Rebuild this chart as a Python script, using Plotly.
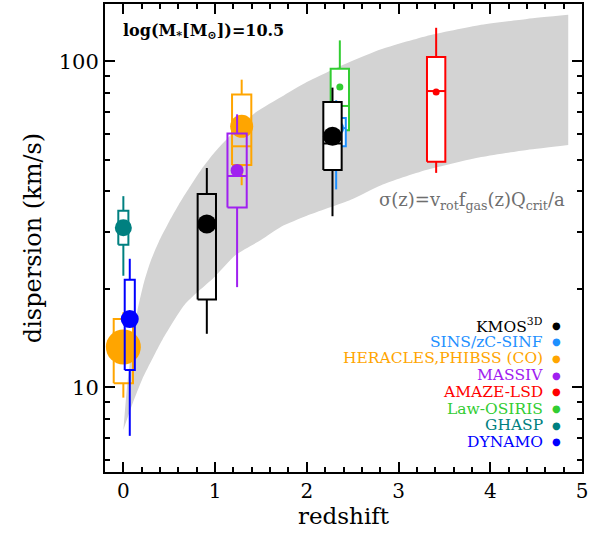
import plotly.graph_objects as go
import math

# ---------------- data ----------------
surveys = ["KMOS<sup>3D</sup>", "SINS/zC-SINF", "HERACLES,PHIBSS (CO)", "MASSIV",
           "AMAZE-LSD", "Law-OSIRIS", "GHASP", "DYNAMO"]
survey_colors = ["#000000", "#1E90FF", "#FFA500", "#A020F0",
                 "#FF0000", "#32CD32", "#008080", "#0000FF"]

# one entry per plotted box (drawing order)
entry_survey = ["GHASP", "HERACLES0", "DYNAMO", "KMOS1", "HERACLES1",
                "MASSIV", "Law-OSIRIS", "SINS", "KMOS2", "AMAZE"]
entry_color = ["#008080", "#FFA500", "#0000FF", "#000000", "#FFA500",
               "#A020F0", "#32CD32", "#1E90FF", "#000000", "#FF0000"]
entry_z = [0.00, 0.00, 0.07, 0.91, 1.29, 1.24, 2.36, 2.32, 2.28, 3.41]
entry_sigma = [30.9, 13.3, 16.2, 31.7, 63.2, 46.3, 83.4, 62.4, 58.9, 80.5]
entry_box_lo = [27.4, 10.3, 11.3, 18.6, 48.1, 35.6, 61.5, 54.9, 46.4, 49.2]
entry_box_hi = [34.8, 16.2, 21.4, 39.2, 79.1, 60.1, 95.0, 67.1, 75.1, 103.1]
entry_median = [30.9, 13.3, 16.2, 31.7, 54.9, 44.5, 73.0, 62.4, 56.0, 81.1]
entry_wlo = [22.0, 9.3, 7.1, 14.6, 41.7, 20.3, 58.0, 40.5, 33.5, 45.5]
entry_whi = [38.6, 17.0, 24.8, 47.1, 87.9, 68.8, 116.0, 76.0, 83.1, 126.8]

# styles (sizes / fills)
entry_halfwidth = [0.055, 0.105, 0.055, 0.10, 0.105, 0.105, 0.10, 0.105, 0.10, 0.10]
entry_marker = [17, 35, 18, 19, 23, 13, 7, 16, 19, 7]
entry_fill = ["white", "rgba(0,0,0,0)", "rgba(0,0,0,0)", "rgba(0,0,0,0)", "rgba(0,0,0,0)",
              "rgba(0,0,0,0)", "white", "white", "white", "white"]

# model band sigma(z)
band_upper_z = [0.0, 0.04, 0.1, 0.15, 0.225, 0.3, 0.4, 0.5, 0.6, 0.72, 0.85, 1.0, 1.25, 1.46, 1.72,
                2.0, 2.48, 2.81, 3.3, 3.9, 4.4, 4.85]
band_upper = [7.4, 10.0, 13.8, 17.0, 21.0, 24.5, 28.5, 32.3, 36.2, 41.0, 46.6, 52.8, 62.6, 70.3, 77.8,
              86.5, 100.0, 109.0, 119.5, 129.5, 135.0, 139.0]
band_lower_z = [0.0, 0.1, 0.207, 0.426, 0.68, 1.0, 1.227, 1.5, 1.72, 2.0, 2.48, 2.81,
                3.3, 3.9, 4.4, 4.85]
band_lower = [7.4, 8.9, 10.6, 14.0, 18.1, 21.9, 25.5, 28.3, 31.1, 33.6, 37.6, 41.7,
              46.4, 50.9, 53.5, 55.4]

x_ticks = [0, 1, 2, 3, 4, 5]
y_ticks = [10, 100]
y_minor = [6, 7, 8, 9, 20, 30, 40, 50, 60, 70, 80, 90]

FONT = "DejaVu Serif"
BAND = "#D3D3D3"

fig = go.Figure()

# band: lower edge, then upper edge filled to it
fig.add_trace(go.Scatter(
    x=band_lower_z, y=band_lower, mode="lines",
    line=dict(width=0, color=BAND, shape="spline", smoothing=0.6),
    hoverinfo="skip", showlegend=False))
fig.add_trace(go.Scatter(
    x=band_upper_z, y=band_upper, mode="lines", fill="tonexty", fillcolor=BAND,
    line=dict(width=0, color=BAND, shape="spline", smoothing=0.6),
    hoverinfo="skip", showlegend=False))

for i in range(len(entry_z)):
    z = entry_z[i]
    hw = entry_halfwidth[i]
    c = entry_color[i]
    lo, hi = entry_box_lo[i], entry_box_hi[i]
    # box
    fig.add_trace(go.Scatter(
        x=[z - hw, z + hw, z + hw, z - hw, z - hw],
        y=[lo, lo, hi, hi, lo],
        fill="toself", fillcolor=entry_fill[i],
        mode="lines", line=dict(color=c, width=2),
        hoverinfo="skip", showlegend=False))
    # whiskers
    fig.add_trace(go.Scatter(
        x=[z, z, None, z, z],
        y=[hi, entry_whi[i], None, lo, entry_wlo[i]],
        mode="lines", line=dict(color=c, width=2),
        hoverinfo="skip", showlegend=False))
    # median
    fig.add_trace(go.Scatter(
        x=[z - hw, z + hw], y=[entry_median[i], entry_median[i]],
        mode="lines", line=dict(color=c, width=2),
        hoverinfo="skip", showlegend=False))
    # circle
    fig.add_trace(go.Scatter(
        x=[z], y=[entry_sigma[i]], mode="markers",
        marker=dict(color=c, size=entry_marker[i], line=dict(width=0)),
        hoverinfo="skip", showlegend=False))

# plot area in pixels
W, H = 601, 540
L, R, T, B = 105, 19, 4, 68
pw, ph = W - L - R, H - T - B


def px2paper(px, py):
    return (px - L) / pw, (H - B - py) / ph


annotations = []
# mass label
ax_, ay_ = px2paper(121, 31)
annotations.append(dict(
    x=ax_, y=ay_, xref="paper", yref="paper", xanchor="left", yanchor="middle",
    text="<b>log(M<sub>*</sub>[M<sub>⊙</sub>])=10.5</b>", showarrow=False,
    font=dict(family=FONT, size=16, color="black")))
# formula
ax_, ay_ = px2paper(567, 201)
annotations.append(dict(
    x=ax_, y=ay_, xref="paper", yref="paper", xanchor="right", yanchor="middle",
    text="σ(z)=v<sub>rot</sub>f<sub>gas</sub>(z)Q<sub>crit</sub>/a", showarrow=False,
    font=dict(family=FONT, size=18, color="#6E6E6E")))
# legend
for k, (name, col) in enumerate(zip(surveys, survey_colors)):
    py = 325 + 16.7 * k
    tx, ty = px2paper(545, py)
    annotations.append(dict(
        x=tx, y=ty, xref="paper", yref="paper", xanchor="right", yanchor="middle",
        text=name, showarrow=False, font=dict(family=FONT, size=15.5, color=col)))
    dx, dy = px2paper(556, py)
    annotations.append(dict(
        x=dx, y=dy, xref="paper", yref="paper", xanchor="center", yanchor="middle",
        text="●", showarrow=False, font=dict(family="DejaVu Sans", size=10, color=col)))

fig.update_layout(
    width=W, height=H,
    margin=dict(l=L, r=R, t=T, b=B, autoexpand=False),
    paper_bgcolor="white", plot_bgcolor="white",
    showlegend=False,
    annotations=annotations,
    font=dict(family=FONT, color="black"),
)

fig.update_xaxes(
    range=[-0.2, 5], tickvals=x_ticks, ticktext=[str(v) for v in x_ticks],
    ticks="inside", ticklen=10, tickwidth=1.5, tickcolor="black",
    minor=dict(dtick=0.2, tick0=0, ticks="inside", ticklen=5, tickwidth=1.5, tickcolor="black"),
    showline=True, linewidth=2, linecolor="black", mirror="allticks",
    showgrid=False, zeroline=False, automargin=False,
    tickfont=dict(family=FONT, size=20, color="black"),
    title=dict(text="redshift", font=dict(family=FONT, size=23, color="black"), standoff=4),
)
fig.update_yaxes(
    type="log", range=[math.log10(5.5), math.log10(150)],
    tickvals=y_ticks, ticktext=[str(v) for v in y_ticks],
    ticks="inside", ticklen=10, tickwidth=1.5, tickcolor="black",
    minor=dict(tickvals=y_minor, ticks="inside", ticklen=5, tickwidth=1.5, tickcolor="black"),
    showline=True, linewidth=2, linecolor="black", mirror="allticks",
    showgrid=False, zeroline=False, automargin=False,
    tickfont=dict(family=FONT, size=21, color="black"),
    title=dict(text="dispersion (km/s)", font=dict(family=FONT, size=24, color="black"), standoff=10),
)

fig.write_html("out.html", config={"displayModeBar": False},
               post_script="document.body.style.margin='0';document.body.style.padding='0';")
